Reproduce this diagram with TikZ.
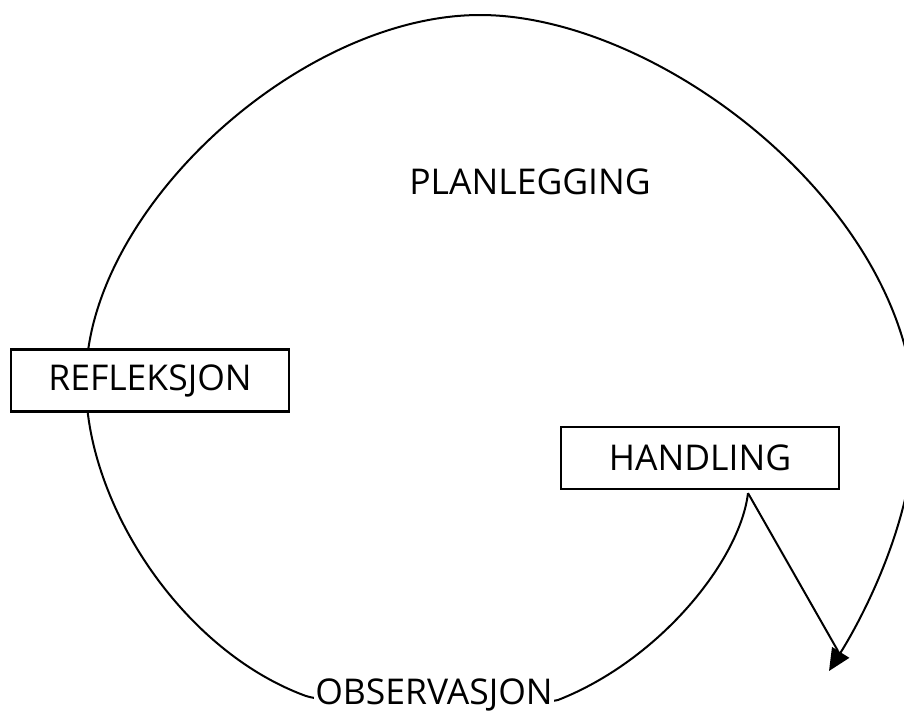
\documentclass[tikz,border=0pt]{standalone}
\usepackage{fontspec}
\setmainfont{Open Sans}
\usetikzlibrary{arrows.meta,backgrounds}
\tikzset{
  txt/.style={font=\fontsize{35.5}{42}\selectfont, text=black},
  boxnode/.style={txt, draw=black, line width=2.2pt, fill=white, minimum width=278pt, minimum height=62pt, inner sep=0pt},
  onpath/.style={txt, fill=white, inner sep=1pt},
  curve/.style={line width=2pt, black},
}
\begin{document}
\begin{tikzpicture}[x=1pt,y=-1pt]
\useasboundingbox (0,0) rectangle (904,713);
\node[boxnode] (refl) at (150,380.5) {REFLEKSJON};
\node[boxnode] (hand) at (700,458) {HANDLING};
\node[txt] (plan) at (530,182) {PLANLEGGING};
\node[onpath] (obs) at (434,695) {OBSERVASJON};
\coordinate (hstart) at ([xshift=48pt,yshift=-3pt]hand.south);
\coordinate (lineend) at (838,651);
\coordinate (tip) at (829,671);
\coordinate (obsR) at (558,700);
\coordinate (obsL) at (306,696);
\coordinate (left) at (86,380);
\coordinate (top) at (480,15);
\coordinate (right) at (915,420);
\begin{scope}[on background layer]
\clip (0,0) rectangle (904,713);
\draw[curve, -{Triangle[length=22pt,width=20pt]}]
  (hstart) .. controls (740,560) and (660,660) .. (obsR)
  .. controls (520,708) and (346,708) .. (obsL)
  .. controls (180,650) and (84,500) .. (left)
  .. controls (86,210) and (300,15) .. (top)
  .. controls (660,15) and (915,210) .. (right)
  .. controls (915,520) and (861,620) .. (tip);
\draw[curve] (hstart) -- (lineend);
\end{scope}
\end{tikzpicture}
\end{document}
